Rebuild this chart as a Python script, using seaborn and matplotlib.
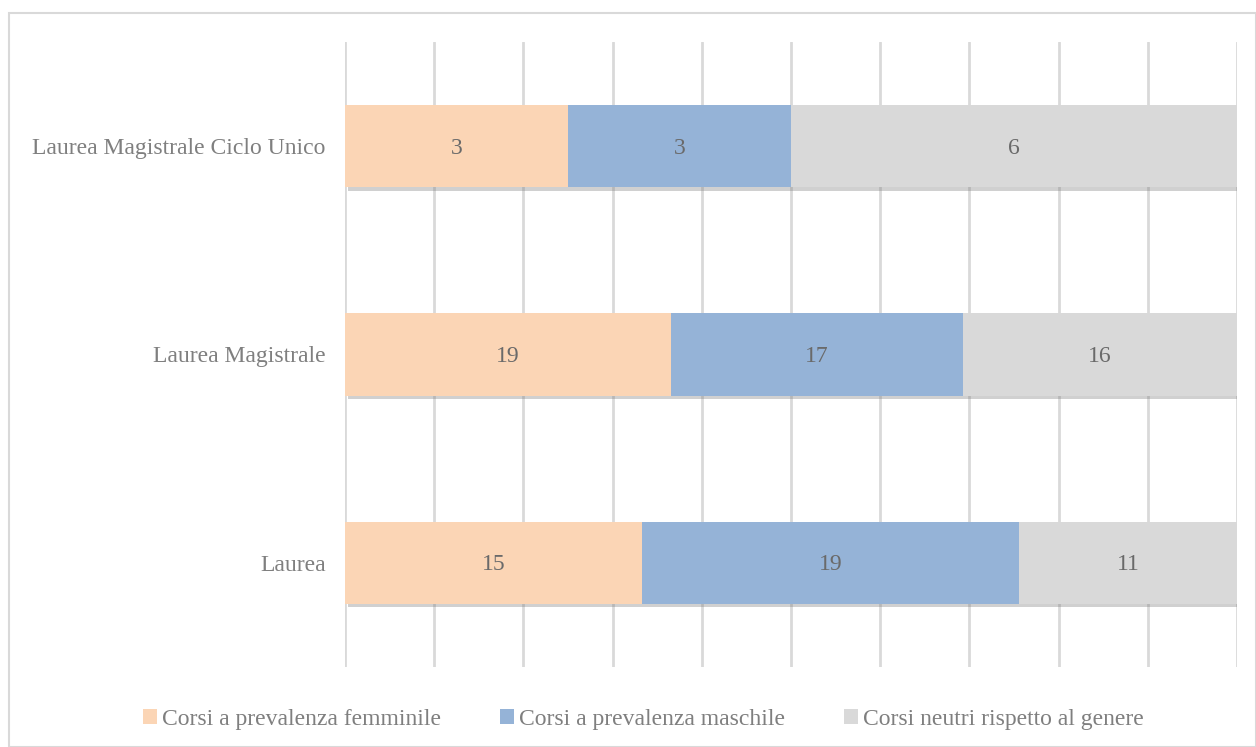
import numpy as np
import pandas as pd
import seaborn as sns
import matplotlib.pyplot as plt
import matplotlib.patheffects as pe
from matplotlib.patches import Patch, Rectangle

categories = ['Laurea Magistrale Ciclo Unico', 'Laurea Magistrale', 'Laurea']
femminile = [3, 19, 15]
maschile = [3, 17, 19]
neutri = [6, 16, 11]
series_names = ['Corsi a prevalenza femminile', 'Corsi a prevalenza maschile',
                'Corsi neutri rispetto al genere']
colors = ['#FBD5B5', '#95B3D7', '#D9D9D9']
text_col = '#7F7F7F'
value_col = '#6A6A6A'

sns.set_theme(style='white')
plt.rcParams['font.family'] = ['Liberation Serif', 'DejaVu Serif']

df = pd.DataFrame({'cat': categories, 'f': femminile, 'm': maschile, 'n': neutri})
tot = df[['f', 'm', 'n']].sum(axis=1)
df['p_f'] = df['f'] / tot * 100
df['p_m'] = df['m'] / tot * 100
df['p_n'] = df['n'] / tot * 100
df['c1'] = df['p_f']
df['c2'] = df['p_f'] + df['p_m']
df['c3'] = df['c2'] + df['p_n']

fig = plt.figure(figsize=(12.56, 7.47), dpi=100)
ax = fig.add_axes([0.2747, 0.1071, 0.9849 - 0.2747, 0.9438 - 0.1071])

# overlay cumulative bars, longest first
for col, c in zip(['c3', 'c2', 'c1'], colors[::-1]):
    sns.barplot(data=df, y='cat', x=col, order=categories, orient='h',
                color=c, width=0.395, saturation=1, linewidth=0,
                edgecolor='none', ax=ax, zorder=2)

# shadow only on the full-length bars
for p in ax.patches[:len(categories)]:
    p.set_path_effects([pe.SimplePatchShadow(offset=(2, -2.5), alpha=0.35,
                                             shadow_rgbFace='#7a7a7a'), pe.Normal()])

ax.set_xlim(0, 100)
ax.set_ylim(2.5, -0.5)
ax.set_xticks(np.arange(0, 101, 10))
ax.xaxis.grid(True, color='#D9D9D9', linewidth=2)
ax.set_axisbelow(True)
ax.tick_params(axis='x', labelbottom=False, length=0)
ax.tick_params(axis='y', length=0, labelsize=17, labelcolor=text_col, pad=14)
for s in ax.spines.values():
    s.set_visible(False)
ax.set_xlabel('')
ax.set_ylabel('')

for i, row in df.iterrows():
    starts = [0, row['c1'], row['c2']]
    widths = [row['p_f'], row['p_m'], row['p_n']]
    vals = [row['f'], row['m'], row['n']]
    for s, w, v in zip(starts, widths, vals):
        ax.text(s + w / 2, i + 0.01, str(v), ha='center', va='center',
                fontsize=17, color=value_col)

handles = [Patch(facecolor=c, edgecolor='none') for c in colors]
fig.legend(handles, series_names, loc='center', bbox_to_anchor=(0.512, 0.037),
           ncol=3, frameon=False, fontsize=17, labelcolor=text_col,
           handlelength=0.6, handleheight=0.6, handletextpad=0.2, columnspacing=2.5)

fig.patches.append(Rectangle((9 / 1256, 0), 1 - 9 / 1256, 1 - 13 / 747,
                             transform=fig.transFigure, fill=False,
                             edgecolor='#D9D9D9', linewidth=1.5))

fig.savefig('out.png', dpi=100, facecolor='white')
